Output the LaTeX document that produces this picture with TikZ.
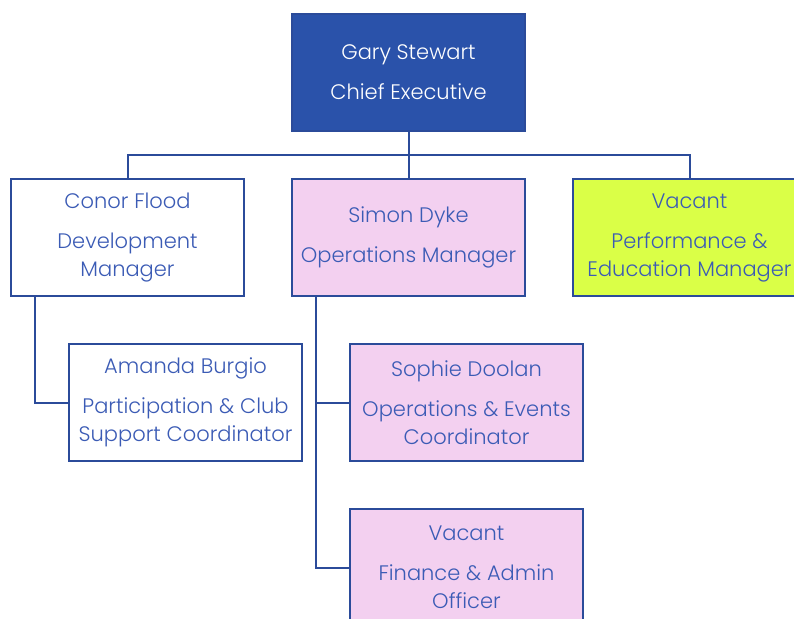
\documentclass[tikz,border=0pt]{standalone}
\usepackage{fontspec}
\IfFontExistsTF{Poppins Light}{\setmainfont{Poppins Light}}{\setmainfont{Poppins}}
\usepackage{xcolor}
\usetikzlibrary{positioning,calc}

\definecolor{edge}{HTML}{2B4B9A}
\definecolor{headfill}{HTML}{2A52AA}
\definecolor{ink}{HTML}{3B5BB5}
\definecolor{pinkfill}{HTML}{F3D0F0}
\definecolor{limefill}{HTML}{DAFF47}

\begin{document}
\begin{tikzpicture}[
  x=1pt, y=1pt, node distance=48pt,
  post/.style={draw=edge, line width=2pt, minimum width=233pt, minimum height=117pt,
    outer sep=0pt, align=center, text=ink, font=\fontsize{21}{28}\selectfont, inner sep=0pt},
  head/.style={post, fill=headfill, text=white},
  plain/.style={post, fill=white},
  ops/.style={post, fill=pinkfill},
  perf/.style={post, fill=limefill},
  link/.style={draw=edge, line width=2pt}]
  \clip (0,0) rectangle (794,-618);
  \useasboundingbox (0,0) rectangle (794,-618);
  \node[head] (ceo) at (408.5,-72.5) {Gary Stewart\\[12pt] Chief Executive};
  \node[ops, below=48pt of ceo] (simon) {Simon Dyke\\[12pt] Operations Manager};
  \node[plain, left=48pt of simon] (conor) {Conor Flood\\[12pt] Development\\ Manager};
  \node[perf, right=48pt of simon] (vacperf) {Vacant\\[12pt] Performance \&\\ Education Manager};
  \node[plain, below=48pt of conor, xshift=58pt] (amanda) {Amanda Burgio\\[12pt] Participation \& Club\\ Support Coordinator};
  \node[ops, below=48pt of simon, xshift=58pt] (sophie) {Sophie Doolan\\[12pt] Operations \& Events\\ Coordinator};
  \node[ops, below=48pt of sophie] (vacfin) {Vacant\\[12pt] Finance \& Admin\\ Officer};
  % reporting lines
  \coordinate (bus) at ($(ceo.south)+(0,-24)$);
  \draw[link] (ceo.south) -- (simon.north);
  \draw[link] (conor.north) |- (bus) -| (vacperf.north);
  \draw[link] ([xshift=24pt]conor.south west) |- (amanda.west);
  \draw[link] ([xshift=24pt]simon.south west) |- (sophie.west);
  \draw[link] ([xshift=24pt]simon.south west) |- (vacfin.west);
\end{tikzpicture}
\end{document}
